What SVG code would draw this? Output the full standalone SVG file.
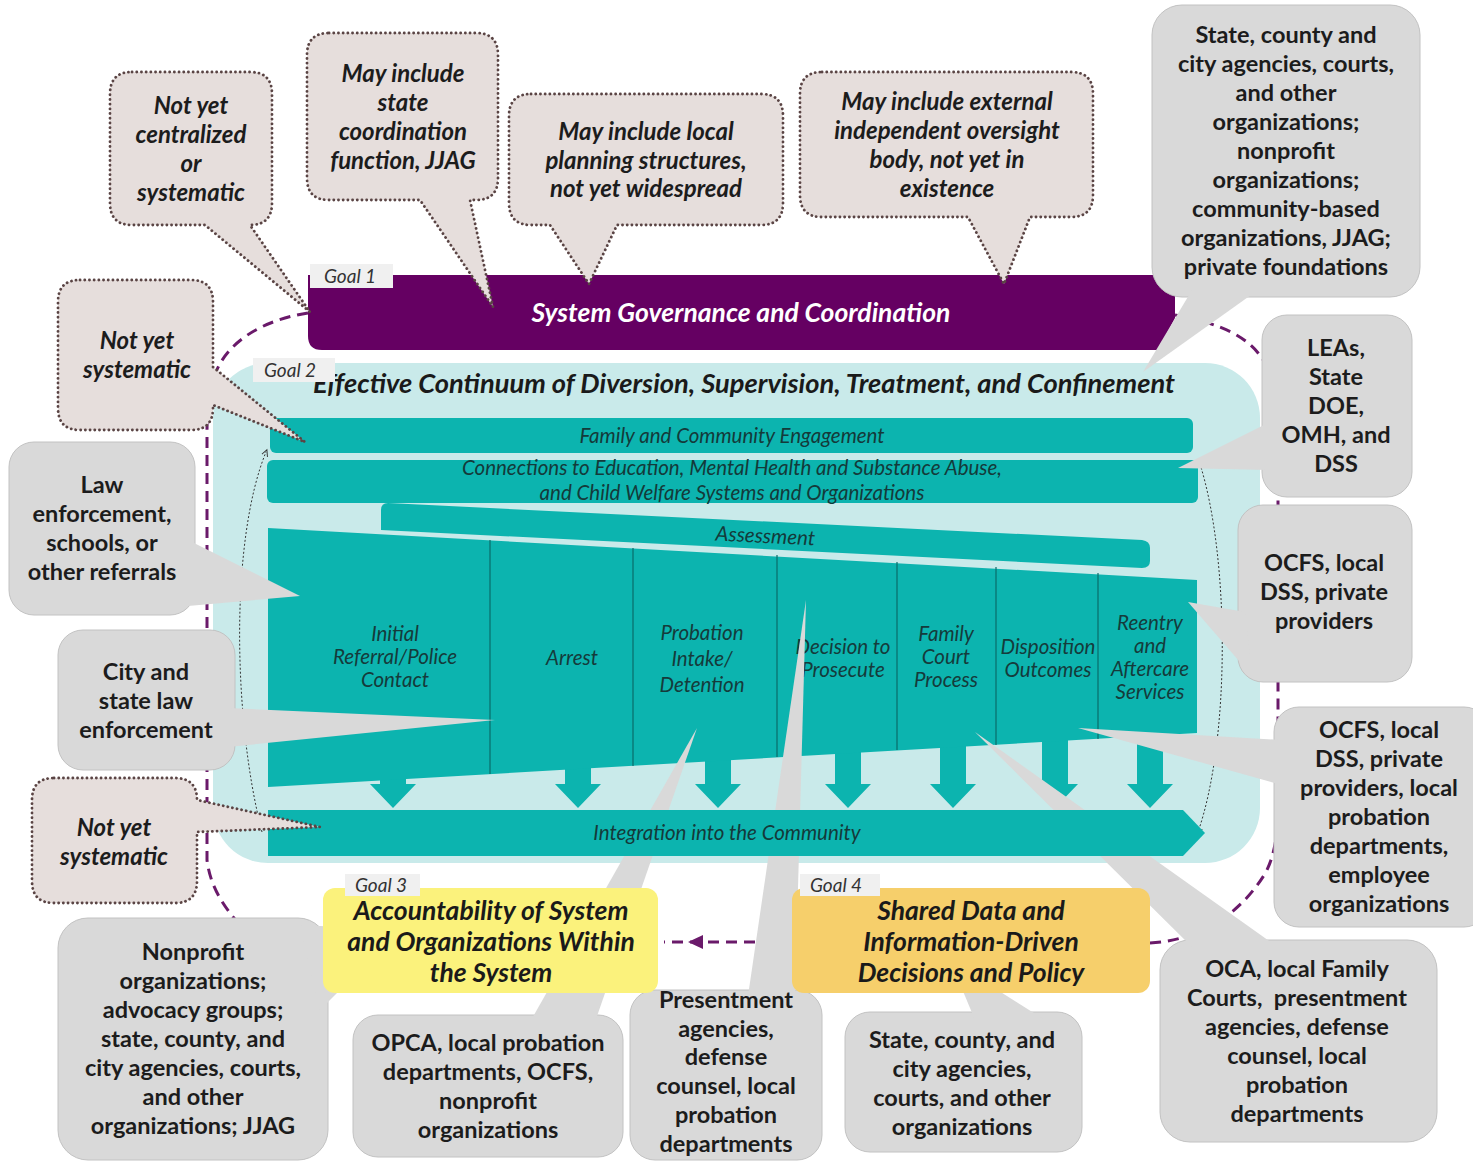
<svg xmlns="http://www.w3.org/2000/svg" width="1473" height="1164" viewBox="0 0 1473 1164">
<defs>
<style>
.gb{fill:#d9d9d9;stroke:#c2c2c2;stroke-width:1}
.gtl{fill:#d9d9d9}
.db{fill:#e6dedc;stroke:#5a4444;stroke-width:2.8;stroke-dasharray:0.1 4.6;stroke-linecap:round;stroke-linejoin:round}
.gt{font-family:Lato,'Open Sans',sans-serif;font-weight:700;font-size:23.5px;fill:#1c1c1c;text-anchor:middle}
.dt{font-family:Lato,'Open Sans',sans-serif;font-style:italic;font-weight:700;font-size:24px;fill:#1c1c1c;text-anchor:middle}
.tab{fill:#f0f0f0}
.tabt{font-family:Lato,'Open Sans',sans-serif;font-style:italic;font-size:19px;fill:#333}
.teal{fill:#0cb4af}
.bt{font-family:Lato,'Open Sans',sans-serif;font-style:italic;font-size:20.5px;fill:#143a3a;text-anchor:middle}
.ct{font-family:Lato,'Open Sans',sans-serif;font-style:italic;font-size:20.5px;fill:#153b3b;text-anchor:middle}
.div{stroke:#0a6c69;stroke-width:1.2}
.loop{fill:none;stroke:#6a1a6a;stroke-width:3;stroke-dasharray:11 7}
.arc{fill:none;stroke:#333;stroke-width:1;stroke-dasharray:2 2}
.goalt{font-family:Lato,'Open Sans',sans-serif;font-style:italic;font-weight:700;font-size:26.5px;fill:#1a1a1a;text-anchor:middle}
</style>
<path id="arw" d="M -13,-80 H 13 V -24 H 23 L 0,0 L -23,-24 H -13 Z"/>
<marker id="sm" viewBox="0 0 10 10" refX="5" refY="5" markerWidth="8" markerHeight="8" orient="auto"><path d="M 0,1 L 8,5 L 0,9" fill="none" stroke="#333" stroke-width="1.2"/></marker>
</defs>
<rect width="1473" height="1164" fill="#ffffff"/>

<g id="connectors">
<path class="loop" d="M 308,313 C 262,320 228,342 216,372 C 209,392 207,410 207,432 L 207,860 C 210,885 222,905 240,925 C 268,944 300,944 325,943"/>
<path class="loop" d="M 1150,943 C 1200,940 1240,915 1266,872 C 1276,852 1278,830 1278,800 L 1278,420 C 1278,392 1271,372 1262,358 C 1248,338 1224,324 1175,315"/>
</g>

<g id="goal2">
<rect x="213" y="363" width="1047" height="500" rx="55" fill="#c9eaea"/>
<text class="goalt" x="744" y="393" font-size="24" textLength="862" lengthAdjust="spacingAndGlyphs">Effective Continuum of Diversion, Supervision, Treatment, and Confinement</text>
<rect class="tab" x="253" y="358" width="82" height="24"/>
<text class="tabt" x="264" y="377">Goal 2</text>
</g>

<g id="goal1">
<path d="M 308,275 H 1175 V 318 L 1158,350 H 322 Q 308,350 308,336 Z" fill="#650062"/>
<text x="741" y="322" font-family="Lato,'Open Sans',sans-serif" font-style="italic" font-weight="700" font-size="26.5" fill="#ffffff" text-anchor="middle">System Governance and Coordination</text>
<rect class="tab" x="310" y="264" width="83" height="24"/>
<text class="tabt" x="324" y="283">Goal 1</text>
</g>

<g id="bars">
<rect class="teal" x="270" y="418" width="923" height="35" rx="6"/>
<text class="bt" x="732" y="443">Family and Community Engagement</text>
<rect class="teal" x="267" y="460" width="931" height="43" rx="6"/>
<text class="bt" x="732" y="475">Connections to Education, Mental Health and Substance Abuse,</text>
<text class="bt" x="732" y="500">and Child Welfare Systems and Organizations</text>
<path class="teal" d="M 388,503 L 1142,540 Q 1150,541 1150,548 L 1150,561 Q 1150,568 1142,568 L 381,530 L 381,510 Q 381,503 388,503 Z"/>
<text class="bt" x="765" y="543" transform="rotate(2.8 765 543)">Assessment</text>
</g>

<g id="arrows" class="teal">
<use href="#arw" x="393" y="808"/>
<use href="#arw" x="578" y="808"/>
<use href="#arw" x="718" y="808"/>
<use href="#arw" x="848" y="808"/>
<use href="#arw" x="953" y="808"/>
<use href="#arw" x="1055" y="808"/>
<use href="#arw" x="1150" y="808"/>
</g>

<g id="process">
<path class="teal" d="M 268,528 L 1197,580 L 1197,733 L 268,787 Z"/>
<line class="div" x1="490" y1="540" x2="490" y2="774"/>
<line class="div" x1="633" y1="548" x2="633" y2="766"/>
<line class="div" x1="777" y1="555" x2="777" y2="757"/>
<line class="div" x1="897" y1="562" x2="897" y2="750"/>
<line class="div" x1="996" y1="567" x2="996" y2="745"/>
<line class="div" x1="1098" y1="573" x2="1098" y2="739"/>
<text class="ct" x="395" y="641">Initial</text>
<text class="ct" x="395" y="664">Referral/Police</text>
<text class="ct" x="395" y="687">Contact</text>
<text class="ct" x="572" y="665">Arrest</text>
<text class="ct" x="702" y="640">Probation</text>
<text class="ct" x="702" y="666">Intake/</text>
<text class="ct" x="702" y="692">Detention</text>
<text class="ct" x="843" y="654">Decision to</text>
<text class="ct" x="843" y="677">Prosecute</text>
<text class="ct" x="946" y="641">Family</text>
<text class="ct" x="946" y="664">Court</text>
<text class="ct" x="946" y="687">Process</text>
<text class="ct" x="1048" y="654">Disposition</text>
<text class="ct" x="1048" y="677">Outcomes</text>
<text class="ct" x="1150" y="630">Reentry</text>
<text class="ct" x="1150" y="653">and</text>
<text class="ct" x="1150" y="676">Aftercare</text>
<text class="ct" x="1150" y="699">Services</text>
</g>

<g id="arcs">
<path class="arc" d="M 262,832 C 233,720 230,540 266,452" marker-end="url(#sm)"/>
<path class="arc" d="M 1200,464 C 1230,560 1230,740 1198,832" marker-end="url(#sm)"/>
</g>

<g id="b7"><rect class="gb" x="1152" y="5" width="268" height="292" rx="30"/><polygon class="gtl" points="1195,285 1143,372 1265,285"/>
<text class="gt" x="1286" y="43">State, county and</text><text class="gt" x="1286" y="72">city agencies, courts,</text><text class="gt" x="1286" y="101">and other</text><text class="gt" x="1286" y="130">organizations;</text><text class="gt" x="1286" y="159">nonprofit</text><text class="gt" x="1286" y="188">organizations;</text><text class="gt" x="1286" y="217">community-based</text><text class="gt" x="1286" y="246">organizations, JJAG;</text><text class="gt" x="1286" y="275">private foundations</text></g>

<g id="b8"><rect class="gb" x="1262" y="315" width="150" height="182" rx="25"/><polygon class="gtl" points="1268,423 1178,468 1268,470"/>
<text class="gt" x="1336" y="356">LEAs,</text><text class="gt" x="1336" y="385">State</text><text class="gt" x="1336" y="414">DOE,</text><text class="gt" x="1336" y="443">OMH, and</text><text class="gt" x="1336" y="472">DSS</text></g>

<g id="b9"><rect class="gb" x="9" y="442" width="186" height="173" rx="25"/><polygon class="gtl" points="188,540 300,596 188,606"/>
<text class="gt" x="102" y="493">Law</text><text class="gt" x="102" y="522">enforcement,</text><text class="gt" x="102" y="551">schools, or</text><text class="gt" x="102" y="580">other referrals</text></g>

<g id="b10"><rect class="gb" x="58" y="630" width="177" height="140" rx="25"/><polygon class="gtl" points="228,708 495,720 228,747"/>
<text class="gt" x="146" y="680">City and</text><text class="gt" x="146" y="709">state law</text><text class="gt" x="146" y="738">enforcement</text></g>

<g id="b11"><rect class="gb" x="1238" y="505" width="174" height="177" rx="25"/><polygon class="gtl" points="1245,612 1188,602 1252,676"/>
<text class="gt" x="1324" y="571">OCFS, local</text><text class="gt" x="1324" y="600">DSS, private</text><text class="gt" x="1324" y="629">providers</text></g>

<g id="b12"><rect class="gb" x="1274" y="707" width="215" height="220" rx="25"/><polygon class="gtl" points="1282,740 1078,728 1282,785"/>
<text class="gt" x="1379" y="738">OCFS, local</text><text class="gt" x="1379" y="767">DSS, private</text><text class="gt" x="1379" y="796">providers, local</text><text class="gt" x="1379" y="825">probation</text><text class="gt" x="1379" y="854">departments,</text><text class="gt" x="1379" y="883">employee</text><text class="gt" x="1379" y="912">organizations</text></g>

<g id="b13"><rect class="gb" x="1160" y="940" width="277" height="202" rx="30"/><polygon class="gtl" points="1195,950 975,732 1282,950"/>
<text class="gt" x="1297" y="977">OCA, local Family</text><text class="gt" x="1297" y="1006" xml:space="preserve">Courts,  presentment</text><text class="gt" x="1297" y="1035">agencies, defense</text><text class="gt" x="1297" y="1064">counsel, local</text><text class="gt" x="1297" y="1093">probation</text><text class="gt" x="1297" y="1122">departments</text></g>

<g id="b14"><rect class="gb" x="58" y="918" width="270" height="242" rx="30"/><polygon class="gtl" points="300,925 400,930 320,1010"/>
<text class="gt" x="193" y="960">Nonprofit</text><text class="gt" x="193" y="989">organizations;</text><text class="gt" x="193" y="1018">advocacy groups;</text><text class="gt" x="193" y="1047">state, county, and</text><text class="gt" x="193" y="1076">city agencies, courts,</text><text class="gt" x="193" y="1105">and other</text><text class="gt" x="193" y="1134">organizations; JJAG</text></g>

<g id="b15"><rect class="gb" x="353" y="1015" width="270" height="142" rx="25"/><polygon class="gtl" points="530,1022 697,728 595,1022"/>
<text class="gt" x="488" y="1051">OPCA, local probation</text><text class="gt" x="488" y="1080">departments, OCFS,</text><text class="gt" x="488" y="1109">nonprofit</text><text class="gt" x="488" y="1138">organizations</text></g>

<g id="b16"><rect class="gb" x="630" y="990" width="192" height="170" rx="25"/><polygon class="gtl" points="748,996 806,600 795,996"/>
<text class="gt" x="726" y="1008">Presentment</text><text class="gt" x="726" y="1037">agencies,</text><text class="gt" x="726" y="1065">defense</text><text class="gt" x="726" y="1094">counsel, local</text><text class="gt" x="726" y="1123">probation</text><text class="gt" x="726" y="1152">departments</text></g>

<g id="b17"><rect class="gb" x="845" y="1012" width="237" height="140" rx="25"/><polygon class="gtl" points="975,1020 950,960 1045,1020"/>
<text class="gt" x="962" y="1048">State, county, and</text><text class="gt" x="962" y="1077">city agencies,</text><text class="gt" x="962" y="1106">courts, and other</text><text class="gt" x="962" y="1135">organizations</text></g>

<g id="integration">
<path class="teal" d="M 268,810 H 1183 L 1205,833 L 1183,856 H 268 Z"/>
<text class="bt" x="727" y="840">Integration into the Community</text>
</g>

<g id="goal3">
<rect x="323" y="888" width="335" height="105" rx="12" fill="#fbf27c"/>
<text class="goalt" x="491" y="920">Accountability of System</text>
<text class="goalt" x="491" y="951">and Organizations Within</text>
<text class="goalt" x="491" y="982">the System</text>
<rect class="tab" x="345" y="874" width="75" height="22"/>
<text class="tabt" x="355" y="892">Goal 3</text>
</g>

<g id="goal4">
<rect x="792" y="888" width="358" height="105" rx="12" fill="#f6cf6b"/>
<text class="goalt" x="971" y="920">Shared Data and</text>
<text class="goalt" x="971" y="951">Information-Driven</text>
<text class="goalt" x="971" y="982">Decisions and Policy</text>
<rect class="tab" x="800" y="874" width="80" height="22"/>
<text class="tabt" x="810" y="892">Goal 4</text>
</g>

<g id="goal-link">
<path class="loop" d="M 755,942 L 664,942"/>
<polygon points="688,942 703,935 703,949" fill="#6a1a6a"/>
</g>

<g id="d1"><path class="db" d="M 132,72 H 250 Q 272,72 272,94 V 203 Q 272,225 250,225 L 310,312 L 205,225 H 132 Q 110,225 110,203 V 94 Q 110,72 132,72 Z"/>
<text class="dt" x="191" y="114">Not yet</text><text class="dt" x="191" y="143">centralized</text><text class="dt" x="191" y="172">or</text><text class="dt" x="191" y="201">systematic</text></g>

<g id="d2"><path class="db" d="M 329,33 H 476 Q 498,33 498,55 V 178 Q 498,200 476,200 H 470 L 493,307 L 420,200 H 329 Q 307,200 307,178 V 55 Q 307,33 329,33 Z"/>
<text class="dt" x="403" y="82">May include</text><text class="dt" x="403" y="111">state</text><text class="dt" x="403" y="140">coordination</text><text class="dt" x="403" y="169">function, JJAG</text></g>

<g id="d3"><path class="db" d="M 531,94 H 761 Q 783,94 783,116 V 203 Q 783,225 761,225 H 617 L 589,284 L 550,225 H 531 Q 509,225 509,203 V 116 Q 509,94 531,94 Z"/>
<text class="dt" x="646" y="140">May include local</text><text class="dt" x="646" y="169">planning structures,</text><text class="dt" x="646" y="197">not yet widespread</text></g>

<g id="d4"><path class="db" d="M 822,72 H 1071 Q 1093,72 1093,94 V 195 Q 1093,217 1071,217 H 1030 L 1004,284 L 968,217 H 822 Q 800,217 800,195 V 94 Q 800,72 822,72 Z"/>
<text class="dt" x="947" y="110">May include external</text><text class="dt" x="947" y="139">independent oversight</text><text class="dt" x="947" y="168">body, not yet in</text><text class="dt" x="947" y="197">existence</text></g>

<g id="d5"><path class="db" d="M 80,280 H 191 Q 213,280 213,302 V 367 L 305,442 L 213,405 V 408 Q 213,430 191,430 H 80 Q 58,430 58,408 V 302 Q 58,280 80,280 Z"/>
<text class="dt" x="137" y="349">Not yet</text><text class="dt" x="137" y="378">systematic</text></g>

<g id="d6"><path class="db" d="M 54,778 H 175 Q 197,778 197,800 L 320,827 L 197,832 V 881 Q 197,903 175,903 H 54 Q 32,903 32,881 V 800 Q 32,778 54,778 Z"/>
<text class="dt" x="114" y="836">Not yet</text><text class="dt" x="114" y="865">systematic</text></g>
</svg>
